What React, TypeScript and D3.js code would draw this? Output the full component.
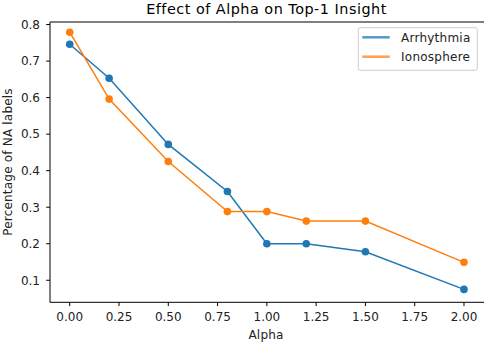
import * as d3 from "d3";

const alphas = [0.0, 0.2, 0.5, 0.8, 1.0, 1.2, 1.5, 2.0];
const arrhythmia = [0.746, 0.653, 0.472, 0.343, 0.2, 0.2, 0.178, 0.075];
const ionosphere = [0.779, 0.596, 0.425, 0.288, 0.288, 0.262, 0.262, 0.149];
const xTicks = [0, 0.25, 0.5, 0.75, 1.0, 1.25, 1.5, 1.75, 2.0];
const yTicks = [0.1, 0.2, 0.3, 0.4, 0.5, 0.6, 0.7, 0.8];
const seriesNames = ["Arrhythmia", "Ionosphere"];
const colors = ["#1f77b4", "#ff7f0e"];

const App = () => {
  const width = 484,
    height = 342,
    marginLeft = 50,
    marginTop = 22,
    plotRight = 483.7,
    marginBottom = 302.3;

  const x = d3.scaleLinear([-0.1, 2.1], [marginLeft, plotRight]);
  const y = d3.scaleLinear([0.0397, 0.807], [marginBottom, marginTop]);
  const line = d3
    .line<number>()
    .x((d, i) => x(alphas[i]))
    .y((d) => y(d));

  const series = [arrhythmia, ionosphere];
  const font = "DejaVu Sans, sans-serif";

  return (
    <svg
      width={width}
      height={height}
      style={{ position: "absolute", left: 0, top: 0, background: "#fff" }}
      fontFamily={font}
    >
      <text
        x={266.5}
        y={14}
        fontSize={14.4}
        letterSpacing={0.5}
        textAnchor="middle"
        fill="#000"
      >
        Effect of Alpha on Top-1 Insight
      </text>

      {/* spines */}
      <g stroke="#000" strokeWidth={1} fill="none">
        <line x1={marginLeft} x2={width} y1={marginTop} y2={marginTop} />
        <line x1={marginLeft} x2={marginLeft} y1={marginTop} y2={marginBottom} />
        <line x1={marginLeft} x2={width} y1={marginBottom} y2={marginBottom} />
      </g>

      {/* x ticks */}
      {xTicks.map((t) => (
        <g key={t} transform={`translate(${x(t)},0)`}>
          <line y1={marginBottom} y2={marginBottom + 3.8} stroke="#000" />
          <text y={320.5} fontSize={12} textAnchor="middle" fill="#222">
            {t.toFixed(2)}
          </text>
        </g>
      ))}

      {/* y ticks */}
      {yTicks.map((t) => (
        <g key={t} transform={`translate(0,${y(t)})`}>
          <line x1={marginLeft - 3.8} x2={marginLeft} stroke="#000" />
          <text x={40} dy="0.36em" fontSize={12} textAnchor="end" fill="#222">
            {t.toFixed(1)}
          </text>
        </g>
      ))}

      <text x={266} y={339} fontSize={12} letterSpacing={0.2} textAnchor="middle" fill="#222">
        Alpha
      </text>
      <text
        transform={`translate(12,162) rotate(-90)`}
        fontSize={12}
        letterSpacing={0.2}
        textAnchor="middle"
        fill="#222"
      >
        Percentage of NA labels
      </text>

      {series.map((s, k) => (
        <g key={k}>
          <path d={line(s) ?? ""} fill="none" stroke={colors[k]} strokeWidth={1.5} />
          {s.map((v, i) => (
            <circle key={i} cx={x(alphas[i])} cy={y(v)} r={3.8} fill={colors[k]} />
          ))}
        </g>
      ))}

      {/* legend */}
      <rect
        x={358.3}
        y={27.7}
        width={119}
        height={42.6}
        rx={2}
        fill="#fff"
        fillOpacity={0.8}
        stroke="#ccc"
        strokeWidth={1}
      />
      {seriesNames.map((n, k) => (
        <g key={n} transform={`translate(0,${37.3 + k * 19.4})`}>
          <line x1={362.3} x2={389.7} stroke={colors[k]} strokeWidth={2.5} strokeOpacity={0.75} />
          <text x={401} dy="0.36em" fontSize={12} letterSpacing={0.25} fill="#222">
            {n}
          </text>
        </g>
      ))}
    </svg>
  );
};

export default App;
